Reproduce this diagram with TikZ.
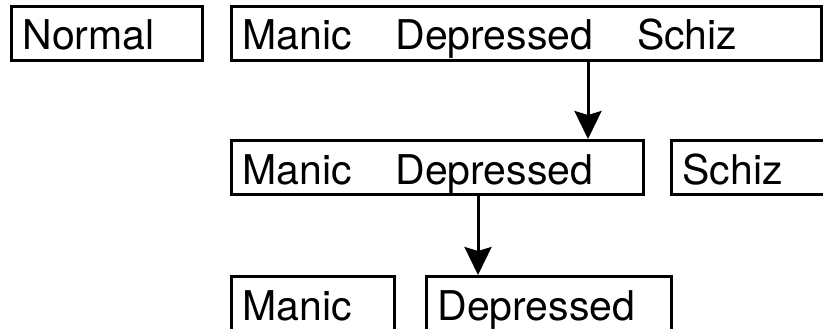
\documentclass[tikz,border=0pt]{standalone}
\usepackage{fontspec}
\setmainfont{TeX Gyre Heros}
\usetikzlibrary{arrows.meta}

\begin{document}
\begin{tikzpicture}[x=1pt, y=-1pt,
    box/.style={draw, line width=3pt, anchor=north west, text width=#1, align=left,
        inner xsep=11pt, inner ysep=0pt, minimum height=54pt,
        text height=33pt, text depth=0pt, font=\fontsize{41}{44}\selectfont},
    arr/.style={line width=3pt, -{Stealth[length=28pt, width=27pt, inset=4pt]}}]
    \useasboundingbox (0,0) rectangle (823,329);

    \node[box=169pt] (N) at (10,5) {Normal};
    \node[box=568pt] (MDS) at (230,5) {Manic\hspace{30pt} Depressed\hspace{30pt} Schiz};

    \node[box=390pt] (MD) at (230,139) {Manic\hspace{30pt} Depressed};
    \node[box=140pt] (S) at (670,139) {Schiz};

    \node[box=141pt] (M) at (230,275) {Manic};
    \node[box=223pt] (D) at (425,275) {Depressed};

    \draw[arr] ([xshift=358pt]MDS.south west) -- ([xshift=358pt]MD.north west);
    \draw[arr] ([xshift=248pt]MD.south west) -- ([xshift=53pt]D.north west);

\end{tikzpicture}
\end{document}
